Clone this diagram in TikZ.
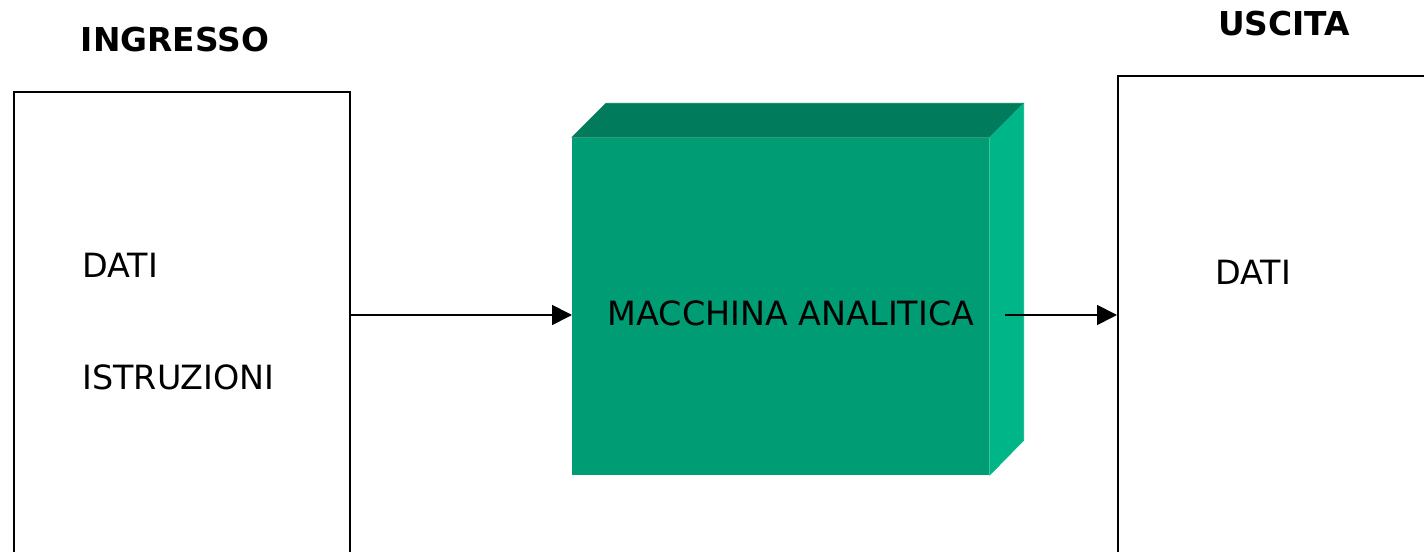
\documentclass[tikz,border=0pt]{standalone}
\usepackage{fontspec}
\setmainfont{DejaVu Sans}
\usetikzlibrary{arrows.meta}
\definecolor{frontgreen}{HTML}{009C74}
\definecolor{topgreen}{HTML}{007B5C}
\definecolor{sidegreen}{HTML}{00B588}
\begin{document}
\begin{tikzpicture}
                \useasboundingbox (0,0) rectangle (28.48,11.02);
                \clip (0,0) rectangle (28.48,11.02);
                \begin{scope}[every node/.style={draw, line width=1.1pt, inner sep=0, anchor=north west}]
                        \node[minimum width=6.72cm, minimum height=12.2cm] (Ingresso) at (0.26,9.2) {};
                        \node[minimum width=8cm, minimum height=12.6cm] (Uscita) at (22.34,9.52) {};
                \end{scope}
                \node[fill=frontgreen, inner sep=0, minimum width=8.34cm, minimum height=6.74cm, anchor=south west] (Macchina) at (11.44,1.52) {};
                \filldraw[topgreen, line width=0.4pt] (Macchina.north west) -- ++(0.68,0.68) -- ++(8.34,0) -- (Macchina.north east) -- cycle;
                \filldraw[sidegreen, line width=0.4pt] (Macchina.north east) -- ++(0.68,0.68) -- ++(0,-6.74) -- (Macchina.south east) -- cycle;
                \coordinate (Uscente) at (20.1,4.72);
                \begin{scope}[every node/.style={font=\fontsize{19}{21}\selectfont, inner sep=0}]
                        \node[font=\fontsize{18.7}{21}\selectfont\bfseries] (TitoloIn) at (3.5,10.22) {INGRESSO};
                        \node[font=\fontsize{18.7}{21}\selectfont\bfseries] (TitoloOut) at (25.68,10.54) {USCITA};
                        \node[anchor=west] (Dati) at (1.64,5.72) {DATI};
                        \node[anchor=west] (Istruzioni) at (1.64,3.48) {ISTRUZIONI};
                        \node[anchor=west] (DatiOut) at (24.3,5.58) {DATI};
                        \node (Nome) at (15.82,4.76) {MACCHINA ANALITICA};
                \end{scope}
                \begin{scope}[every path/.style={line width=1pt, -{Triangle[length=0.4cm, width=0.4cm]}}]
                        \draw (Ingresso.east |- Uscente) -- (Macchina.west |- Uscente);
                        \draw (Uscente) -- (Uscita.west |- Uscente);
                \end{scope}
        \end{tikzpicture}
\end{document}
